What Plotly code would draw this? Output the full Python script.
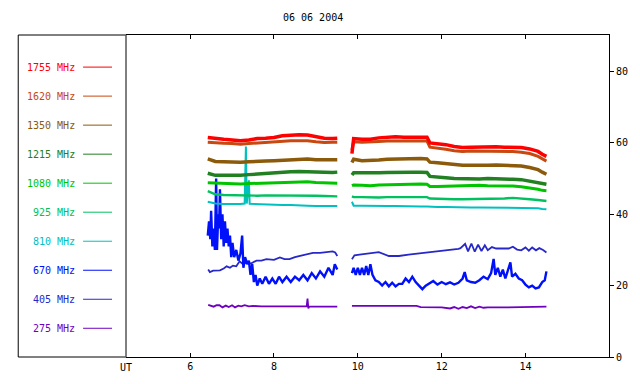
import plotly.graph_objects as go

# ---------------- data (hours UT, flux units) ----------------
T1 = [6.42, 6.6, 6.8, 7.0, 7.2, 7.4, 7.6, 7.8, 8.0, 8.2, 8.4, 8.6, 8.8, 9.0, 9.2, 9.4, 9.51]
T2 = [9.86, 9.9, 10.1, 10.3, 10.5, 10.7, 10.9, 11.1, 11.3, 11.5, 11.65, 11.72, 11.9, 12.1,
      12.3, 12.5, 12.7, 12.9, 13.1, 13.3, 13.5, 13.7, 13.9, 14.1, 14.3, 14.4, 14.5]

F1755_1 = [61.5, 61.2, 61.0, 60.8, 60.6, 60.8, 61.2, 61.3, 61.5, 62.0, 62.2, 62.3, 62.2, 61.7, 61.3, 61.2, 61.3]
F1755_2 = [57.0, 61.2, 61.0, 61.0, 61.4, 61.6, 61.7, 61.6, 61.6, 61.7, 61.6, 60.0, 59.8, 59.5, 59.0, 58.7,
           58.8, 58.9, 58.8, 58.9, 58.8, 58.8, 58.7, 58.3, 57.6, 56.8, 56.2]

F1620_1 = [60.2, 60.0, 59.9, 59.8, 59.6, 59.8, 60.0, 60.1, 60.2, 60.5, 60.6, 60.6, 60.6, 60.3, 60.1, 60.2, 60.2]
F1620_2 = [58.0, 60.3, 60.2, 60.2, 60.4, 60.5, 60.6, 60.5, 60.5, 60.6, 60.5, 58.8, 58.6, 58.2, 57.8, 57.6,
           57.7, 57.7, 57.7, 57.8, 57.7, 57.6, 57.4, 57.0, 56.2, 55.5, 54.9]

F1350_1 = [55.5, 54.8, 54.7, 54.6, 54.6, 54.7, 54.9, 54.9, 55.0, 55.1, 55.3, 55.5, 55.5, 55.3, 55.2, 55.3, 55.3]
F1350_2 = [54.5, 55.4, 55.0, 55.0, 55.2, 55.4, 55.5, 55.6, 55.6, 55.6, 55.5, 54.6, 54.4, 54.1, 53.8, 53.7,
           53.7, 53.6, 53.7, 53.8, 53.7, 53.6, 53.5, 53.1, 52.5, 51.8, 51.2]

F1215_1 = [51.5, 50.9, 50.9, 50.8, 50.9, 51.1, 51.3, 51.4, 51.5, 51.7, 51.9, 52.0, 51.9, 51.7, 51.6, 51.7, 51.8]
F1215_2 = [51.0, 51.6, 51.6, 51.5, 51.6, 51.7, 51.8, 51.8, 51.8, 51.8, 51.7, 50.6, 50.5, 50.2, 50.0, 49.9,
           50.0, 49.9, 50.0, 50.0, 49.9, 49.8, 49.7, 49.3, 48.9, 48.5, 48.4]

F1080_1 = [48.8, 48.7, 48.6, 48.5, 48.5, 48.6, 48.7, 48.8, 48.9, 49.0, 49.0, 49.2, 49.1, 48.9, 48.8, 48.8, 48.7]
F1080_2 = [48.0, 48.2, 48.1, 48.0, 48.2, 48.3, 48.4, 48.5, 48.5, 48.5, 48.4, 47.8, 47.8, 47.9, 48.0, 48.0,
           48.1, 48.1, 48.0, 48.0, 48.0, 47.9, 47.7, 47.4, 47.0, 46.7, 46.6]

F925_1 = [46.5, 45.6, 45.4, 45.3, 45.3, 45.2, 45.2, 45.3, 45.3, 45.4, 45.3, 45.3, 45.2, 45.2, 45.1, 45.1, 45.0]
F925_2 = [45.0, 44.8, 44.8, 44.7, 44.7, 44.8, 44.8, 44.8, 44.8, 44.8, 44.8, 44.4, 44.3, 44.3, 44.2, 44.2,
          44.2, 44.3, 44.3, 44.2, 44.4, 44.6, 44.3, 44.2, 44.0, 43.8, 43.7]

T1_810 = [6.42, 6.6, 6.8, 7.0, 7.2, 7.3, 7.33, 7.35, 7.4, 7.42, 7.6, 7.8, 8.0, 8.2, 8.4, 8.6, 8.8,
          9.0, 9.2, 9.4, 9.51]
F810_1 = [43.5, 43.0, 42.9, 42.8, 42.9, 43.0, 59.0, 43.0, 49.5, 42.9, 42.8, 42.7, 42.7, 42.6, 42.6,
          42.4, 42.4, 42.3, 42.3, 42.3, 42.3]
F810_2 = [43.5, 42.4, 42.4, 42.3, 42.3, 42.3, 42.3, 42.2, 42.2, 42.2, 42.2, 42.1, 42.0, 42.0, 41.9, 41.9,
          41.9, 41.9, 41.9, 41.9, 41.9, 41.9, 41.8, 41.8, 41.7, 41.5, 41.4]

T1_670 = [6.42, 6.45, 6.48, 6.50, 6.53, 6.56, 6.59, 6.62, 6.64, 6.67, 6.69, 6.71, 6.74, 6.77, 6.80,
          6.83, 6.86, 6.89, 6.92, 6.95, 6.98, 7.01, 7.05, 7.10, 7.15, 7.20, 7.24, 7.27, 7.31, 7.36,
          7.40, 7.44, 7.48, 7.52, 7.56, 7.60, 7.66, 7.72, 7.80, 7.88, 7.96, 8.04, 8.12, 8.20, 8.30,
          8.40, 8.50, 8.60, 8.70, 8.80, 8.90, 9.00, 9.10, 9.20, 9.30, 9.40, 9.45, 9.51]
F670_1 = [34, 38, 33, 41, 31, 36, 30, 50, 30, 40, 36, 47, 33, 40, 31,
          38, 32, 36, 31, 34, 28, 32, 28, 30, 27, 29, 34, 25, 28, 26,
          27, 23, 26, 21, 23, 20, 22, 20.5, 22.5, 20.5, 22, 20.5, 22.5, 21, 22.5,
          21, 22.5, 21.5, 23, 21.5, 23.5, 22, 24, 22.5, 25, 23, 26, 24.5]
T2_670 = [9.86, 9.90, 9.95, 10.00, 10.05, 10.10, 10.15, 10.20, 10.25, 10.30, 10.35, 10.42, 10.50,
          10.58, 10.66, 10.74, 10.82, 10.90, 10.98, 11.06, 11.14, 11.22, 11.30, 11.38, 11.46, 11.54,
          11.62, 11.70, 11.80, 11.90, 12.00, 12.10, 12.20, 12.30, 12.40, 12.50, 12.55, 12.60, 12.70,
          12.80, 12.90, 13.00, 13.10, 13.18, 13.24, 13.28, 13.34, 13.40, 13.46, 13.52, 13.58, 13.64,
          13.68, 13.76, 13.84, 13.92, 14.00, 14.08, 14.16, 14.24, 14.32, 14.40, 14.46, 14.50]
F670_2 = [23.5, 25, 23, 25, 23, 25, 23, 25.5, 23, 26, 23, 21.5, 21,
          20, 21, 19.8, 20.8, 19.8, 20.5, 20.5, 22, 21, 22.5, 21, 20, 19,
          20, 20.5, 21.3, 20.3, 21, 20.4, 20.9, 20.3, 20.8, 22, 23.8, 21.5, 21,
          20.8, 21.5, 22.5, 21.8, 23.5, 27.5, 23, 25, 22.5, 24.5, 22, 24, 26.5,
          22.5, 23.3, 22, 21.5, 20.3, 19.5, 20, 19.2, 19.5, 21, 21.5, 24]

T1_405 = [6.43, 6.47, 6.55, 6.71, 6.8, 6.87, 6.95, 7.02, 7.1, 7.18, 7.26, 7.34, 7.45, 7.58, 7.7,
          7.82, 8.0, 8.14, 8.25, 8.37, 8.5, 8.61, 8.75, 8.93, 9.1, 9.25, 9.4, 9.46, 9.51]
F405_1 = [24.5, 23.8, 24.2, 24.3, 24.8, 25.4, 25.0, 25.6, 25.4, 26.8, 26.0, 26.4, 26.2, 27.0, 27.0,
          27.4, 27.2, 27.9, 27.4, 27.4, 28.0, 28.3, 28.6, 29.2, 29.2, 29.4, 29.6, 29.3, 28.3]
T2_405 = [9.86, 9.92, 10.04, 10.35, 10.5, 10.74, 10.98, 11.21, 11.45, 11.7, 11.93, 12.17, 12.4,
          12.45, 12.56, 12.63, 12.71, 12.79, 12.87, 12.95, 13.03, 13.1, 13.2, 13.3, 13.45, 13.6,
          13.7, 13.8, 13.9, 14.0, 14.08, 14.16, 14.25, 14.33, 14.42, 14.5]
F405_2 = [27.4, 28.5, 28.7, 29.3, 29.4, 28.3, 28.3, 28.7, 29.0, 29.4, 29.8, 30.0, 30.3,
          30.5, 31.7, 29.6, 31.8, 29.5, 31.5, 29.7, 31.3, 29.9, 30.8, 30.4, 30.5, 30.4,
          30.9, 30.1, 29.9, 30.7, 29.8, 30.7, 29.9, 30.5, 30.0, 29.3]

T1_275 = [6.43, 6.5, 6.56, 6.63, 6.7, 6.77, 6.85, 6.92, 7.0, 7.07, 7.15, 7.22, 7.3, 7.4, 7.5,
          7.7, 8.0, 8.3, 8.6, 8.78, 8.8, 8.82, 8.84, 9.1, 9.51]
F275_1 = [14.6, 14.4, 14.1, 14.5, 14.5, 13.9, 14.4, 14.0, 14.5, 13.9, 14.4, 14.2, 14.5, 14.2, 14.3,
          14.2, 14.3, 14.2, 14.2, 14.2, 16.4, 13.6, 14.2, 14.2, 14.1]
T2_275 = [9.86, 10.5, 11.0, 11.4, 11.5, 12.0, 12.2, 12.3, 12.4, 12.5, 12.6, 12.7, 12.8, 12.9,
          13.0, 13.1, 13.5, 14.0, 14.5]
F275_2 = [14.3, 14.3, 14.3, 14.3, 14.0, 13.9, 13.6, 14.0, 13.5, 14.0, 13.7, 14.2, 13.7, 14.1,
          13.8, 13.9, 13.9, 13.9, 14.1]

LABELS = ["1755 MHz", "1620 MHz", "1350 MHz", "1215 MHz", "1080 MHz",
          "925 MHz", "810 MHz", "670 MHz", "405 MHz", "275 MHz"]
COLORS = ["#ff0000", "#c84810", "#8b5a0a", "#228022", "#00c400",
          "#00c060", "#00c0c0", "#0010f8", "#2828c8", "#7000c0"]
WIDTHS = [3.5, 3, 3.5, 3.5, 3, 2.4, 2, 2.4, 1.8, 1.8]

X_TICKS = [6, 8, 10, 12, 14]
Y_TICKS = [0, 20, 40, 60, 80]
TITLE = "06 06 2004"

SERIES = [
    (T1, F1755_1, T2, F1755_2),
    (T1, F1620_1, T2, F1620_2),
    (T1, F1350_1, T2, F1350_2),
    (T1, F1215_1, T2, F1215_2),
    (T1, F1080_1, T2, F1080_2),
    (T1, F925_1, T2, F925_2),
    (T1_810, F810_1, T2, F810_2),
    (T1_670, F670_1, T2_670, F670_2),
    (T1_405, F405_1, T2_405, F405_2),
    (T1_275, F275_1, T2_275, F275_2),
]

# ---------------- figure ----------------
W, H = 640, 384
ML, MR, MT, MB = 126, 30, 35, 25
PW, PH = W - ML - MR, H - MT - MB
FONT = "DejaVu Sans Mono"

fig = go.Figure()
for i in reversed(range(len(SERIES))):
    t1, v1, t2, v2 = SERIES[i]
    fig.add_trace(go.Scatter(
        x=t1 + [None] + t2, y=v1 + [None] + v2, mode="lines",
        line=dict(color=COLORS[i], width=WIDTHS[i]), connectgaps=False,
        showlegend=False, hoverinfo="skip"))

def px_x(p):
    return (p - ML) / PW

def px_y(p):
    return (H - MB - p) / PH

shapes = []
annotations = []
shapes.append(dict(type="rect", xref="paper", yref="paper", x0=px_x(18), x1=0, y0=0, y1=1,
                   line=dict(color="black", width=1)))
shapes.append(dict(type="line", xref="paper", yref="paper", x0=0, x1=0, y0=0, y1=1,
                   line=dict(color="#808080", width=1)))

row0, row_step = 67.3, 29.2
for i, lab in enumerate(LABELS):
    yy = px_y(row0 + i * row_step)
    shapes.append(dict(type="line", xref="paper", yref="paper", x0=px_x(83), x1=px_x(112),
                       y0=yy, y1=yy, line=dict(color=COLORS[i], width=1)))
    annotations.append(dict(xref="paper", yref="paper", x=px_x(77), y=yy, text=lab,
                            showarrow=False, xanchor="right", yanchor="middle",
                            font=dict(family=FONT, size=10, color=COLORS[i])))

annotations.append(dict(xref="paper", yref="paper", x=0, y=px_y(370), text="UT",
                        showarrow=False, xanchor="center", yanchor="middle",
                        font=dict(family=FONT, size=10, color="black")))
annotations.append(dict(xref="paper", yref="paper", x=px_x(313), y=px_y(17), text=TITLE,
                        showarrow=False, xanchor="center", yanchor="middle",
                        font=dict(family=FONT, size=10, color="black")))

fig.update_layout(
    width=W, height=H, margin=dict(l=ML, r=MR, t=MT, b=MB, pad=0),
    paper_bgcolor="white", plot_bgcolor="white",
    shapes=shapes, annotations=annotations,
    xaxis=dict(range=[6 + (ML - 190.3) / 42, 6 + (W - MR - 190.3) / 42],
               tickvals=X_TICKS, ticktext=[str(v) for v in X_TICKS],
               ticks="inside", ticklen=4, tickcolor="black", tickwidth=1,
               showline=True, linecolor="black", linewidth=1, mirror="ticks",
               showgrid=False, zeroline=False,
               tickfont=dict(family=FONT, size=10, color="black")),
    yaxis=dict(range=[0, PH / 3.591], side="right",
               tickvals=Y_TICKS, ticktext=[str(v) for v in Y_TICKS],
               ticks="outside", ticklen=4, tickcolor="black", tickwidth=1,
               showline=True, linecolor="black", linewidth=1, mirror=False,
               showgrid=False, zeroline=False,
               tickfont=dict(family=FONT, size=10, color="black")),
)

fig.write_html("out.html", config={"displayModeBar": False},
               post_script="document.body.style.margin='0';document.body.style.padding='0';")
